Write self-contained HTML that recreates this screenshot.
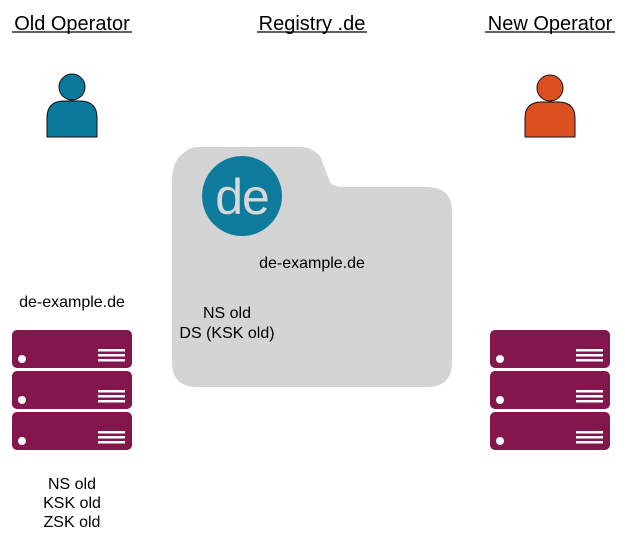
<!DOCTYPE html>
<html><head><style>body{margin:0;background:#fff}svg{display:block}</style></head><body>
<svg width="625" height="541" viewBox="0 0 625 541" xmlns="http://www.w3.org/2000/svg" font-family="Liberation Sans, Arial, sans-serif">
<defs>
<g id="srv">
<rect x="0" y="0" width="120" height="38" rx="5" fill="#82164d"/>
<circle cx="10" cy="29" r="4" fill="#fff"/>
<rect x="86" y="19" width="27" height="2.5" fill="#fff"/>
<rect x="86" y="24" width="27" height="2.5" fill="#fff"/>
<rect x="86" y="29" width="27" height="2.5" fill="#fff"/>
</g>
</defs>
<g font-size="20" fill="#000" text-anchor="middle">
<text x="72" y="30">Old Operator</text>
<text x="312" y="30">Registry .de</text>
<text x="550" y="30">New Operator</text>
</g>
<line x1="12" y1="32" x2="132" y2="32" stroke="#000" stroke-width="1.3"/>
<line x1="257" y1="32" x2="367" y2="32" stroke="#000" stroke-width="1.3"/>
<line x1="485" y1="32" x2="615" y2="32" stroke="#000" stroke-width="1.3"/>
<g stroke="#111" stroke-width="1">
<circle cx="72" cy="87" r="13" fill="#0a7a9c"/>
<path d="M47 137 V118 Q47 101 64 101 H80 Q97 101 97 118 V137 Z" fill="#0a7a9c"/>
<circle cx="550" cy="88" r="13" fill="#dc5020"/>
<path d="M525 137 V118 Q525 102 542 102 H558 Q575 102 575 118 V137 Z" fill="#dc5020"/>
</g>
<path d="M197 147 H300 Q312 147 320 156 L330 182 Q333 187 345 187 H427 Q452 187 452 212 V362 Q452 387 427 387 H197 Q172 387 172 362 V180 Q172 160 185 152 Q190 147 197 147 Z" fill="#d4d4d4"/>
<circle cx="242" cy="196" r="40" fill="#0e7b9c"/>
<text x="242" y="214" font-size="50" fill="#d8d8d8" text-anchor="middle" letter-spacing="-1">de</text>
<g font-size="16" fill="#000" text-anchor="middle">
<text x="312" y="268">de-example.de</text>
<text x="227" y="318">NS old</text>
<text x="227" y="338">DS (KSK old)</text>
<text x="72" y="307">de-example.de</text>
<text x="72" y="489">NS old</text>
<text x="72" y="508">KSK old</text>
<text x="72" y="527">ZSK old</text>
</g>
<use href="#srv" x="12" y="330"/>
<use href="#srv" x="12" y="371"/>
<use href="#srv" x="12" y="412"/>
<use href="#srv" x="490" y="330"/>
<use href="#srv" x="490" y="371"/>
<use href="#srv" x="490" y="412"/>
</svg>
</body></html>
